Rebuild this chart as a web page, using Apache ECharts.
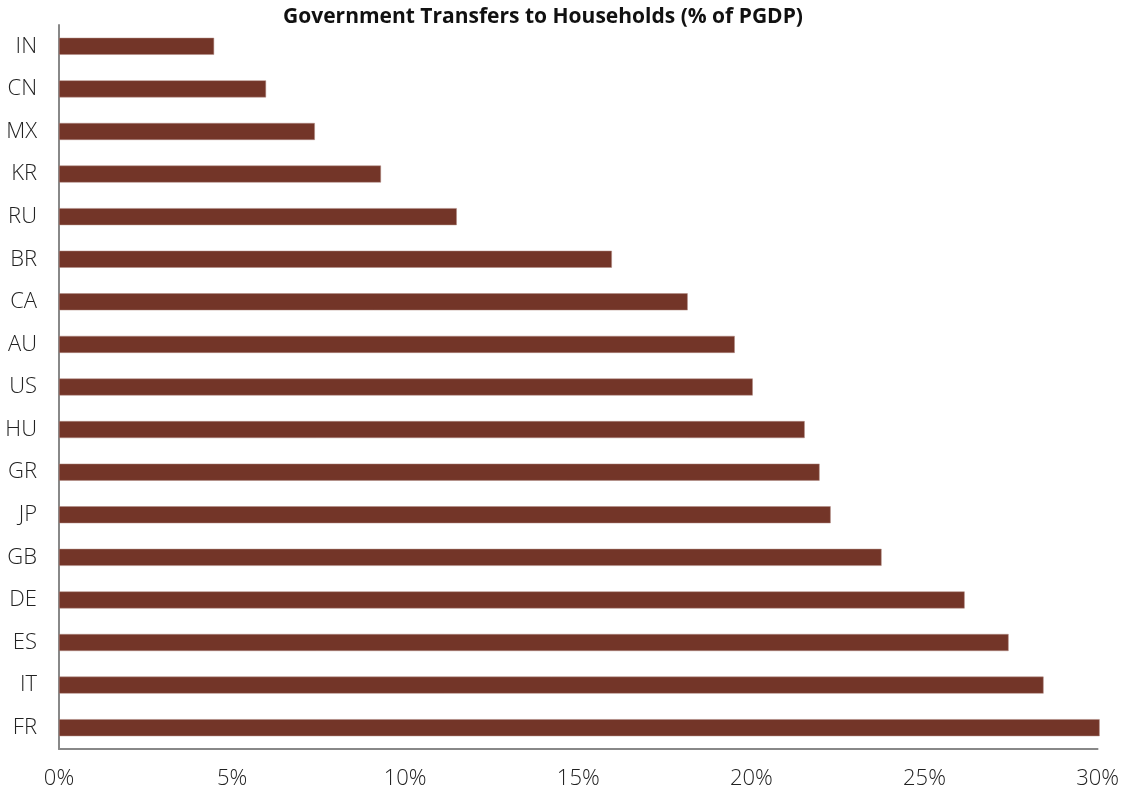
<!DOCTYPE html>
<html><head><meta charset="utf-8">
<script src="https://cdn.jsdelivr.net/npm/echarts@6/dist/echarts.min.js"></script>
<style>html,body{margin:0;padding:0;background:#fff}#c{width:1122px;height:793px}</style>
</head><body><div id="c"></div>
<script>
const categories = ['IN','CN','MX','KR','RU','BR','CA','AU','US','HU','GR','JP','GB','DE','ES','IT','FR'];
const values = [4.48,5.98,7.39,9.30,11.49,15.97,18.16,19.52,20.04,21.54,21.97,22.29,23.76,26.16,27.43,28.44,30.06];
const xTicks = [0,5,10,15,20,25,30];
const chart = echarts.init(document.getElementById('c'));
chart.setOption({
  animation:false,
  title:{text:'Government Transfers to Households (% of PGDP)',left:538,top:2,textAlign:'center',
    textStyle:{fontFamily:'Open Sans',fontSize:21,fontWeight:'bold',color:'#111'}},
  grid:{left:59,right:24,top:25,bottom:44,containLabel:false},
  xAxis:{type:'value',min:xTicks[0],max:xTicks[xTicks.length-1],interval:5,
    axisLine:{show:true,lineStyle:{color:'#888',width:2}},axisTick:{show:false},splitLine:{show:false},
    axisLabel:{formatter:v=>v+'%',fontFamily:'Open Sans',fontWeight:300,fontSize:22,color:'#222',margin:19}},
  yAxis:{type:'category',data:categories,inverse:true,
    axisLine:{show:true,lineStyle:{color:'#888',width:2}},axisTick:{show:false},
    axisLabel:{fontFamily:'Open Sans',fontWeight:300,fontSize:22,color:'#222',margin:22}},
  series:[{type:'bar',data:values,barWidth:17,clip:false,
    itemStyle:{color:'#733528',borderColor:'#b08a82',borderWidth:0.5}}]
});
</script></body></html>
